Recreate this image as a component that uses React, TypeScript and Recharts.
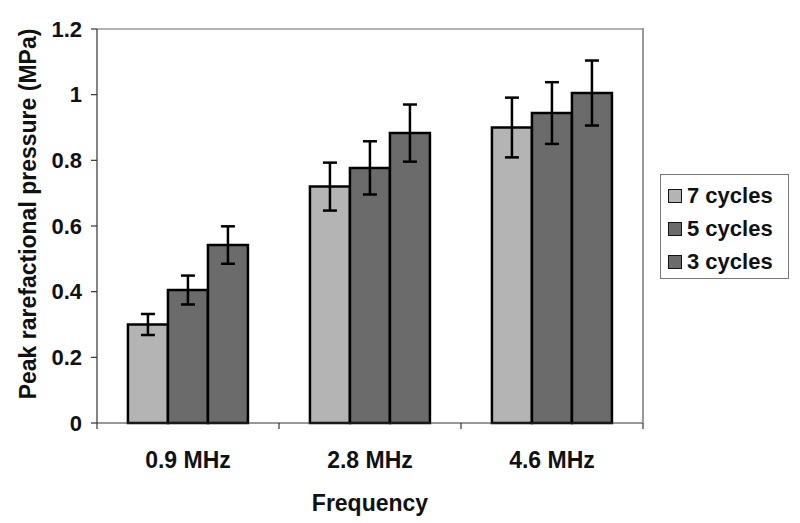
import { BarChart, Bar, XAxis, YAxis, ErrorBar, ReferenceLine } from 'recharts'

const frequencies = ['0.9 MHz', '2.8 MHz', '4.6 MHz']
const cycles7 = [0.3, 0.72, 0.9]
const cycles7Err = [0.032, 0.073, 0.091]
const cycles5 = [0.405, 0.777, 0.944]
const cycles5Err = [0.044, 0.081, 0.094]
const cycles3 = [0.542, 0.883, 1.005]
const cycles3Err = [0.057, 0.087, 0.099]
const yTicks = [0, 0.2, 0.4, 0.6, 0.8, 1, 1.2]

const seriesInfo = [
  { key: 'c7', err: 'e7', name: '7 cycles', color: '#b4b4b4' },
  { key: 'c5', err: 'e5', name: '5 cycles', color: '#6b6b6b' },
  { key: 'c3', err: 'e3', name: '3 cycles', color: '#6b6b6b' },
]

const data = frequencies.map((f, i) => ({
  freq: f,
  c7: cycles7[i],
  e7: cycles7Err[i],
  c5: cycles5[i],
  e5: cycles5Err[i],
  c3: cycles3[i],
  e3: cycles3Err[i],
}))

const FONT = '"Liberation Sans", Arial, sans-serif'

const CategoryTick = (props: any) => {
  const { x, y, payload, index } = props
  const half = payload.offset ?? 0
  return (
    <g>
      <line x1={x - half} x2={x - half} y1={y} y2={y + 6} stroke="#333" strokeWidth={1.2} />
      {index === frequencies.length - 1 && (
        <line x1={x + half} x2={x + half} y1={y} y2={y + 6} stroke="#333" strokeWidth={1.2} />
      )}
      <text x={x} y={y + 45} textAnchor="middle" fontFamily={FONT} fontWeight="bold" fontSize={23} fill="#111">
        {payload.value}
      </text>
    </g>
  )
}

const YTitle = (props: any) => {
  const { viewBox } = props
  const x = viewBox.x - 4
  const y = viewBox.y + viewBox.height / 2 - 12
  return (
    <text
      x={x}
      y={y}
      transform={`rotate(-90, ${x}, ${y})`}
      textAnchor="middle"
      fontFamily={FONT}
      fontWeight="bold"
      fontSize={23}
      fill="#111"
    >
      Peak rarefactional pressure (MPa)
    </text>
  )
}

const LegendBox = () => (
  <div
    style={{
      position: 'absolute',
      left: 660,
      top: 174,
      width: 127,
      height: 99,
      border: '1.5px solid #777',
      background: '#fff',
      fontFamily: FONT,
      fontWeight: 'bold',
      fontSize: 22,
      color: '#111',
      boxSizing: 'content-box',
      paddingTop: 4,
    }}
  >
    {seriesInfo.map(s => (
      <div key={s.key} style={{ display: 'flex', alignItems: 'center', height: 33, paddingLeft: 7 }}>
        <span
          style={{
            display: 'inline-block',
            width: 12,
            height: 12,
            background: s.color,
            border: '1.5px solid #111',
            marginRight: 5,
          }}
        />
        {s.name}
      </div>
    ))}
  </div>
)

export default function App() {
  return (
    <div style={{ position: 'absolute', left: 0, top: 0, width: 800, height: 523, background: '#fff' }}>
      <BarChart
        width={800}
        height={523}
        data={data}
        margin={{ top: 29, right: 157, bottom: 0, left: 40 }}
        barCategoryGap="17%"
        barGap={0}
      >
        <XAxis
          dataKey="freq"
          height={100}
          tickSize={0}
          tickMargin={0}
          tickLine={false}
          axisLine={{ stroke: '#333', strokeWidth: 1.2 }}
          tick={<CategoryTick />}
          interval={0}
          label={{
            value: 'Frequency',
            position: 'insideBottom',
            offset: 12,
            style: { fontFamily: FONT, fontWeight: 'bold', fontSize: 23, fill: '#111' },
          }}
        />
        <YAxis
          width={57}
          domain={[0, 1.2]}
          ticks={yTicks}
          interval={0}
          tickSize={6}
          tickMargin={9}
          tickLine={{ stroke: '#333', strokeWidth: 1.2 }}
          axisLine={{ stroke: '#333', strokeWidth: 1.2 }}
          tick={{ fontFamily: FONT, fontWeight: 'bold', fontSize: 22, fill: '#111' }}
          label={<YTitle />}
        />
        <ReferenceLine y={1.2} stroke="#999" strokeWidth={1.5} />
        {seriesInfo.map(s => (
          <Bar
            key={s.key}
            dataKey={s.key}
            name={s.name}
            fill={s.color}
            stroke="#000"
            strokeWidth={2.5}
            isAnimationActive={false}
          >
            <ErrorBar dataKey={s.err} width={7} stroke="#000" strokeWidth={2.5} direction="y" />
          </Bar>
        ))}
      </BarChart>
      <div
        style={{
          position: 'absolute',
          left: 642,
          top: 28,
          width: 1.5,
          height: 395,
          background: '#999',
        }}
      />
      <LegendBox />
    </div>
  )
}
